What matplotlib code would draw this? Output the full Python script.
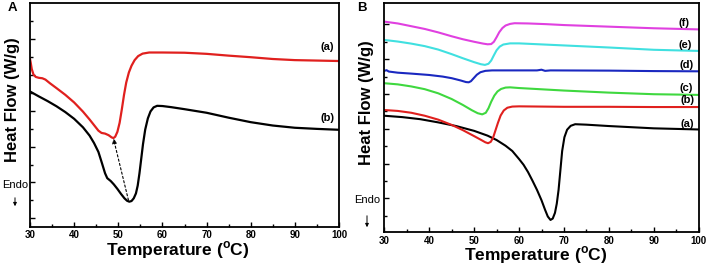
import matplotlib
matplotlib.use("Agg")
import matplotlib.pyplot as plt
from matplotlib.ticker import MultipleLocator
import numpy as np

plt.rcParams['font.family'] = ['Liberation Sans', 'DejaVu Sans']

# ---------------- Panel A data ----------------
a_red_x = [30.0, 30.15, 30.4, 30.8, 31.3, 32, 32.8, 33.5, 34.5, 36, 38, 40, 42, 43.5, 44.7, 45.5, 46.2,
           47, 47.8, 48.5, 48.9, 49.3, 49.8, 50.3, 50.8, 51.3, 51.8, 52.4, 53.0, 53.7, 54.5, 55.5, 57,
           60, 65, 70, 75, 80, 85, 90, 95, 100]
a_red_y = [75, 73.5, 70.5, 68, 67.0, 66.6, 66.4, 65.8, 64.2, 62.0, 59.0, 55.6, 51.5, 48.0, 45.0, 43.0, 42.0,
           41.7, 41.0, 40.0, 39.7, 40.3, 42.5, 46.5, 52.5, 59, 64.5, 69, 72.0, 74.5, 76.3, 77.4, 77.9,
           77.9, 77.8, 77.3, 76.5, 75.8, 75, 74.5, 74.3, 74.1]

a_blk_x = [30, 32, 34, 36, 38, 40, 42, 43.5, 44.5, 45.5, 46.3, 47, 47.5, 48.3, 49, 49.8, 50.6, 51.4,
           52, 52.5, 53, 53.5, 54, 54.4, 54.8, 55.2, 55.6, 56.1, 56.7, 57.3, 58, 58.8, 60, 62, 65,
           70, 75, 80, 85, 90, 95, 100]
a_blk_y = [60.5, 58.3, 56.2, 53.9, 51.3, 48.3, 44.5, 40.8, 37.5, 33.5, 28.5, 24.0, 21.8, 20.5, 19.0, 17.0,
           14.8, 12.8, 11.7, 11.3, 11.6, 12.8, 15.0, 18.5, 24, 30.5, 37, 43.5, 48.5, 51.6, 53.4, 54.1,
           54.0, 53.5, 52.6, 51.0, 48.8, 46.8, 45.3, 44.3, 43.8, 43.4]

a_labels = ["(a)", "(b)"]

# ---------------- Panel B data ----------------
b_f_x = [30, 33, 36, 39, 42, 45, 47.5, 50, 52, 53, 53.8, 54.4, 55, 55.6, 56.3, 57, 58, 59, 62, 66,
         70, 80, 90, 100]
b_f_y = [92.0, 91.2, 90.0, 88.8, 87.3, 85.6, 84.3, 83.2, 82.4, 82.1, 82.2, 83.2, 85.2, 87.4, 89.2,
         90.3, 91.0, 91.3, 91.2, 90.9, 90.5, 89.8, 89.1, 88.6]

b_e_x = [30, 33, 36, 39, 42, 45, 47.5, 50, 51.5, 52.4, 53.2, 53.8, 54.4, 55, 55.7, 56.5, 58, 60,
         70, 80, 90, 100]
b_e_y = [84.0, 83.3, 82.4, 81.3, 79.8, 77.8, 76.0, 74.3, 73.4, 73.1, 73.6, 75.0, 77.3, 79.5, 81.1,
         82.0, 82.5, 82.5, 81.6, 80.7, 79.7, 79.2]

b_d_x = [30, 30.5, 31, 33, 36, 40, 43, 45, 47, 48.2, 48.8, 49.3, 49.9, 50.6, 51.4, 52.5, 54, 60,
         64, 65, 65.8, 67, 80, 90, 100]
b_d_y = [70.5, 70.8, 70.2, 69.7, 69.3, 68.7, 68.0, 67.3, 66.3, 65.6, 65.5, 66.0, 67.3, 68.8, 69.9,
         70.5, 70.7, 70.7, 70.7, 71.0, 70.5, 70.7, 70.6, 70.4, 70.3]

b_c_x = [30, 33, 36, 39, 42, 45, 47.5, 49.5, 50.8, 51.8, 52.6, 53.2, 53.8, 54.5, 55.2, 56, 57, 58,
         60, 70, 80, 90, 100]
b_c_y = [65.1, 64.6, 63.7, 62.5, 60.7, 58.2, 55.6, 53.3, 52.0, 51.5, 52.2, 54.2, 57.0, 59.7, 61.5,
         62.6, 63.2, 63.3, 63.0, 61.9, 61.0, 60.3, 60.0]

b_b_x = [30, 33, 36, 39, 42, 45, 47.5, 50, 51.5, 52.5, 53.1, 53.7, 54.2, 54.7, 55.3, 55.9, 56.6,
         57.4, 58.5, 60, 70, 80, 90, 100]
b_b_y = [53.4, 53.0, 52.2, 50.9, 49.2, 46.9, 44.6, 42.0, 40.4, 39.3, 38.9, 39.5, 41.2, 44.2, 47.8,
         51.0, 53.2, 54.4, 54.9, 55.0, 54.8, 54.8, 54.7, 54.7]

b_a_x = [30, 34, 38, 42, 46, 50, 53, 55, 57, 58.5, 60, 61, 62, 63, 64, 65, 65.8, 66.4, 67, 67.5,
         68, 68.4, 68.8, 69.2, 69.6, 70.1, 70.7, 71.5, 72.5, 75, 80, 90, 100]
b_a_y = [50.9, 50.3, 49.4, 48.0, 46.4, 44.3, 42.2, 40.3, 37.8, 35.5, 32.0, 29.5, 26.3, 22.5, 18.5,
         14.0, 9.8, 6.9, 5.4, 6.0, 8.5, 12.5, 18.5, 27, 35.5, 41.5, 44.8, 46.5, 47.2, 47.0, 46.4,
         45.4, 44.9]

b_labels = ["(a)", "(b)", "(c)", "(d)", "(e)", "(f)"]

RED = "#e0201e"
BLACK = "#000000"
MAGENTA = "#e040e0"
CYAN = "#40e0e0"
BLUE = "#1a28c0"
GREEN = "#3fd83f"

W, H = 708, 265
fig = plt.figure(figsize=(W / 100, H / 100), dpi=100)


def style_axes(ax, yticks, ymin_minor):
    ax.set_xlim(30, 100)
    ax.set_ylim(0, 100)
    ax.xaxis.set_major_locator(MultipleLocator(10))
    ax.xaxis.set_minor_locator(MultipleLocator(5))
    ax.set_yticks(yticks)
    ax.set_yticks(ymin_minor, minor=True)
    ax.set_yticklabels([])
    ax.tick_params(axis='both', which='both', direction='in', width=1.0)
    ax.tick_params(axis='both', which='major', length=3.5)
    ax.tick_params(axis='both', which='minor', length=2)
    ax.tick_params(axis='y', which='both', right=False)
    ax.tick_params(axis='x', which='both', top=False, pad=2.5)
    for lab in ax.get_xticklabels():
        lab.set_fontweight('bold')
        lab.set_fontsize(7)
    for sp in ax.spines.values():
        sp.set_linewidth(1.3)


# Panel A
axA = fig.add_axes([30 / W, 1 - 227 / H, 309 / W, 224 / H])
axA.plot(a_red_x, a_red_y, color=RED, lw=1.6)
axA.plot(a_blk_x, a_blk_y, color=BLACK, lw=1.6)
ytA = [3.9, 19.9, 35.9, 51.9, 67.9, 83.9]
style_axes(axA, ytA, [y + 8 for y in ytA])
axA.annotate("", xy=(48.9, 39.5), xytext=(52.3, 12.0),
             arrowprops=dict(arrowstyle="-|>", linestyle=(0, (2, 2)), color="black",
                             lw=0.8, mutation_scale=7, shrinkA=0, shrinkB=0))
axA.text(97.3, 78.0, a_labels[0], fontsize=8, fontweight='bold', ha='center', va='bottom')
axA.text(97.5, 46.5, a_labels[1], fontsize=8, fontweight='bold', ha='center', va='bottom')

# Panel B
axB = fig.add_axes([384.3 / W, 1 - 232.3 / H, 314.4 / W, 229 / H])
for xs, ys, c in [(b_a_x, b_a_y, BLACK), (b_b_x, b_b_y, RED), (b_c_x, b_c_y, GREEN),
                  (b_d_x, b_d_y, BLUE), (b_e_x, b_e_y, CYAN), (b_f_x, b_f_y, MAGENTA)]:
    axB.plot(xs, ys, color=c, lw=1.5)
ytB = [14.8, 30.0, 45.2, 60.4, 75.6, 90.8]
style_axes(axB, ytB, [y - 7.6 for y in ytB])
for lab, x, y in zip(b_labels, [97.5, 97.5, 97.3, 97.3, 97.1, 96.7],
                     [47.3, 57.8, 62.9, 73.1, 81.8, 91.6]):
    axB.text(x, y, lab, fontsize=8, fontweight='bold', ha='center', va='center')

# Figure-level texts
for px, py, s in [(12, 8, "A"), (362, 8, "B")]:
    fig.text(px / W, 1 - py / H, s, fontsize=9.5, fontweight='bold', ha='center', va='center')

fig.text(13 / W, 1 - 100 / H, "Heat Flow (W/g)", rotation=90, fontsize=12, fontweight='bold',
         ha='center', va='center')
fig.text(367 / W, 1 - 103 / H, "Heat Flow (W/g)", rotation=90, fontsize=12, fontweight='bold',
         ha='center', va='center')

fig.text(178 / W, 1 - 255.5 / H, r"Temperature ($^{\mathregular{o}}$C)", fontsize=12.5, fontweight='bold',
         ha='center', va='baseline')
fig.text(536 / W, 1 - 260.5 / H, r"Temperature ($^{\mathregular{o}}$C)", fontsize=12.5, fontweight='bold',
         ha='center', va='baseline')

# Endo labels + arrows
fig.text(15 / W, 1 - 185 / H, "Endo", fontsize=8, ha='center', va='center')
fig.add_artist(matplotlib.patches.FancyArrowPatch((15 / W, 1 - 195 / H), (15 / W, 1 - 209 / H),
                                                  transform=fig.transFigure, arrowstyle="-|>",
                                                  mutation_scale=5, lw=0.7, color='black'))
fig.text(367 / W, 1 - 200 / H, "Endo", fontsize=8, ha='center', va='center')
fig.add_artist(matplotlib.patches.FancyArrowPatch((367 / W, 1 - 213 / H), (367 / W, 1 - 230 / H),
                                                  transform=fig.transFigure, arrowstyle="-|>",
                                                  mutation_scale=5, lw=0.7, color='black'))

fig.savefig("out.png", dpi=100)
